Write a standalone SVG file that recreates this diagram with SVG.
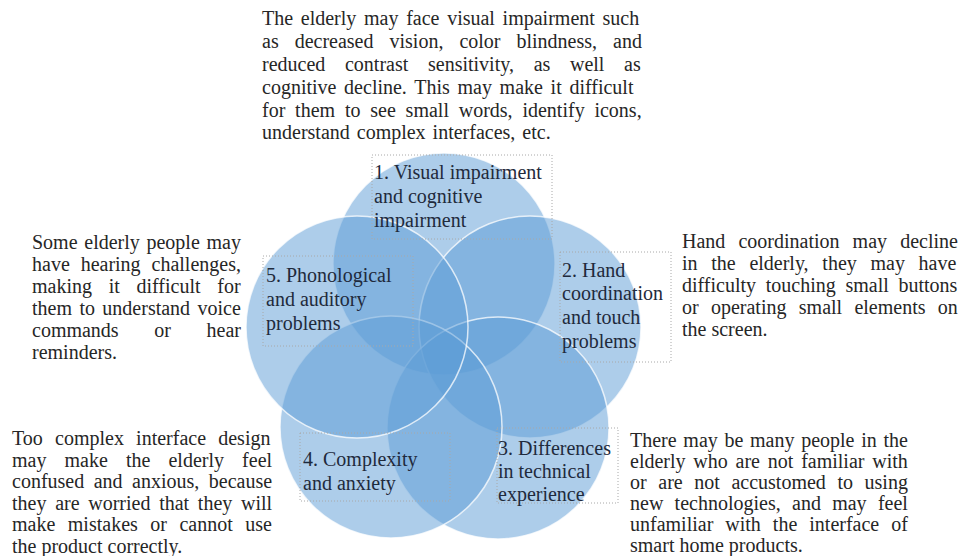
<svg xmlns="http://www.w3.org/2000/svg" width="960" height="556" viewBox="0 0 960 556">
  <style>
    .para { font-family: "Liberation Serif", "Times New Roman", serif; font-size: 20px; fill: #262626; }
    .lbl { font-family: "Liberation Serif", "Times New Roman", serif; font-size: 20px; fill: #1f2a3c; }
    .circ { fill: #5b9bd5; fill-opacity: 0.5; stroke: #ffffff; stroke-opacity: 0.75; stroke-width: 1.5; }
    .box { fill: none; stroke: #a8a8a8; stroke-width: 1; stroke-dasharray: 1 2; }
  </style>
  <rect width="960" height="556" fill="#ffffff"/>

  <!-- nodes: circles -->
  <g id="node-1"><circle class="circ" cx="444" cy="264" r="111"/></g>
  <g id="node-2"><circle class="circ" cx="530" cy="327" r="111"/></g>
  <g id="node-3"><circle class="circ" cx="498" cy="428" r="111"/></g>
  <g id="node-4"><circle class="circ" cx="391" cy="427" r="111"/></g>
  <g id="node-5"><circle class="circ" cx="357" cy="327" r="111"/></g>

  <g id="connectors"></g>

  <!-- node labels -->
  <g id="label-1">
    <rect class="box" x="372" y="155" width="180" height="84"/>
    <text class="lbl" x="374" y="179">1. Visual impairment</text>
    <text class="lbl" x="374" y="203">and cognitive</text>
    <text class="lbl" x="374" y="227">impairment</text>
  </g>
  <g id="label-2">
    <rect class="box" x="560" y="252" width="111" height="110"/>
    <text class="lbl" x="562" y="277">2. Hand</text>
    <text class="lbl" x="562" y="300">coordination</text>
    <text class="lbl" x="562" y="324">and touch</text>
    <text class="lbl" x="562" y="348">problems</text>
  </g>
  <g id="label-3">
    <rect class="box" x="497" y="428" width="121" height="75"/>
    <text class="lbl" x="498" y="455">3. Differences</text>
    <text class="lbl" x="498" y="478">in technical</text>
    <text class="lbl" x="498" y="501">experience</text>
  </g>
  <g id="label-4">
    <rect class="box" x="300" y="433" width="150" height="68"/>
    <text class="lbl" x="303" y="466">4. Complexity</text>
    <text class="lbl" x="303" y="490">and anxiety</text>
  </g>
  <g id="label-5">
    <rect class="box" x="263" y="256" width="150" height="90"/>
    <text class="lbl" x="266" y="282">5. Phonological</text>
    <text class="lbl" x="266" y="306">and auditory</text>
    <text class="lbl" x="266" y="330">problems</text>
  </g>

  <!-- descriptions -->
  <g id="desc-1">
    <text class="para" x="262" y="25" style="word-spacing:2.7px">The elderly may face visual impairment such</text>
    <text class="para" x="262" y="48" style="word-spacing:11px">as decreased vision, color blindness, and</text>
    <text class="para" x="262" y="71" style="word-spacing:14.7px">reduced contrast sensitivity, as well as</text>
    <text class="para" x="262" y="94" style="word-spacing:2.7px">cognitive decline. This may make it difficult</text>
    <text class="para" x="262" y="117" style="word-spacing:4.8px">for them to see small words, identify icons,</text>
    <text class="para" x="262" y="139" style="word-spacing:2px">understand complex interfaces, etc.</text>
  </g>
  <g id="desc-2">
    <text class="para" x="682" y="248" style="word-spacing:8.1px">Hand coordination may decline</text>
    <text class="para" x="682" y="270" style="word-spacing:8.7px">in the elderly, they may have</text>
    <text class="para" x="682" y="292" style="word-spacing:4.7px">difficulty touching small buttons</text>
    <text class="para" x="682" y="314" style="word-spacing:7.3px">or operating small elements on</text>
    <text class="para" x="682" y="336">the screen.</text>
  </g>
  <g id="desc-3">
    <text class="para" x="630" y="447" style="word-spacing:1.7px">There may be many people in the</text>
    <text class="para" x="630" y="468" style="word-spacing:2.8px">elderly who are not familiar with</text>
    <text class="para" x="630" y="489" style="word-spacing:6.6px">or are not accustomed to using</text>
    <text class="para" x="630" y="510" style="word-spacing:6.3px">new technologies, and may feel</text>
    <text class="para" x="630" y="531" style="word-spacing:7px">unfamiliar with the interface of</text>
    <text class="para" x="630" y="552">smart home products.</text>
  </g>
  <g id="desc-4">
    <text class="para" x="12" y="445" style="word-spacing:7.2px">Too complex interface design</text>
    <text class="para" x="12" y="466.5" style="word-spacing:13.1px">may make the elderly feel</text>
    <text class="para" x="12" y="488" style="word-spacing:4.5px">confused and anxious, because</text>
    <text class="para" x="12" y="509.5" style="word-spacing:3.7px">they are worried that they will</text>
    <text class="para" x="12" y="531" style="word-spacing:7.5px">make mistakes or cannot use</text>
    <text class="para" x="12" y="552.5">the product correctly.</text>
  </g>
  <g id="desc-5">
    <text class="para" x="32" y="249" style="word-spacing:1.7px">Some elderly people may</text>
    <text class="para" x="32" y="271" style="word-spacing:5.9px">have hearing challenges,</text>
    <text class="para" x="32" y="293" style="word-spacing:11.7px">making it difficult for</text>
    <text class="para" x="32" y="315" style="word-spacing:2.4px">them to understand voice</text>
    <text class="para" x="32" y="337" style="word-spacing:30.6px">commands or hear</text>
    <text class="para" x="32" y="359">reminders.</text>
  </g>
</svg>
